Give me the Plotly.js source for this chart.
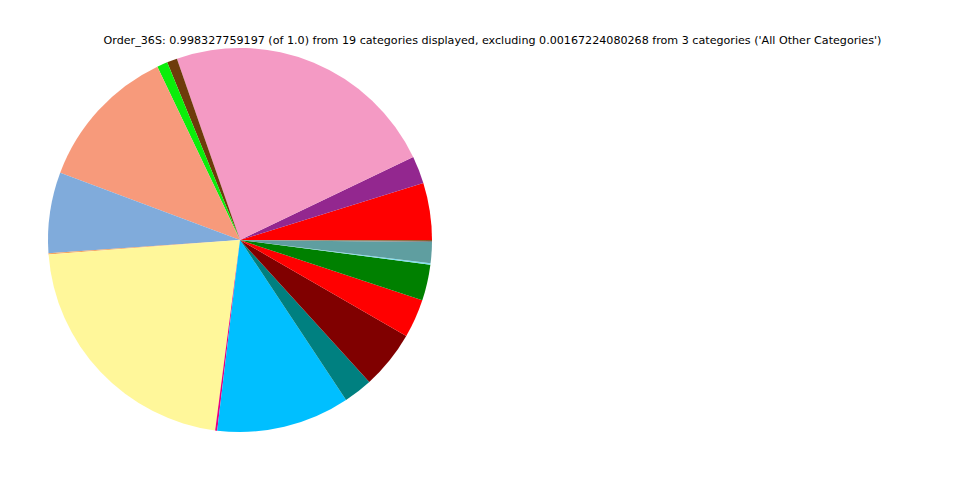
<!DOCTYPE html>
<html>
<head>
<meta charset="utf-8">
<script src="https://cdn.plot.ly/plotly-3.0.1.min.js"></script>
<style>html,body{margin:0;padding:0;background:#fff;}#chart{width:960px;height:480px;}</style>
</head>
<body>
<div id="chart"></div>
<script>
const categories = ["Cat 1","Cat 2","Cat 3","Cat 4","Cat 5","Cat 6","Cat 7","Cat 8","Cat 9","Cat 10",
                    "Cat 11","Cat 12","Cat 13","Cat 14","Cat 15","Cat 16","Cat 17","Cat 18","Cat 19"];
const shares = [0.048, 0.023, 0.232, 0.0086, 0.0089, 0.122, 0.068, 0.0011, 0.217, 0.0017,
                0.112, 0.0244, 0.049, 0.0325, 0.0303, 0.0011, 0.0178, 0.0008, 0.0008];
const sliceColors = ["#FF0000","#93278F","#F49AC4","#6E3B0B","#0AEE0A","#F79A7B","#80ABDB","#F4A460","#FFF79A","#E6007E",
                     "#00BFFF","#008080","#800000","#FF0000","#008000","#80E0F0","#5F9EA0","#808080","#8B5A2B"];
const titleText = "Order_36S: 0.998327759197 (of 1.0) from 19 categories displayed, excluding 0.00167224080268 from 3 categories ('All Other Categories')";

Plotly.newPlot('chart', [{
  type: 'pie',
  labels: categories,
  values: shares,
  sort: false,
  direction: 'counterclockwise',
  rotation: 72.7,
  textinfo: 'none',
  marker: {colors: sliceColors, line: {width: 0}},
  domain: {x: [0.05, 0.45], y: [0.1, 0.9]},
  showlegend: false
}], {
  width: 960, height: 480,
  margin: {l: 0, r: 0, t: 0, b: 0},
  paper_bgcolor: '#fff',
  title: {text: titleText, x: 492.5/960, xanchor: 'center', y: 1 - 40/480, yanchor: 'middle',
          font: {family: 'DejaVu Sans', size: 11.14, color: '#000'}},
  showlegend: false
}, {staticPlot: true});
</script>
</body>
</html>
